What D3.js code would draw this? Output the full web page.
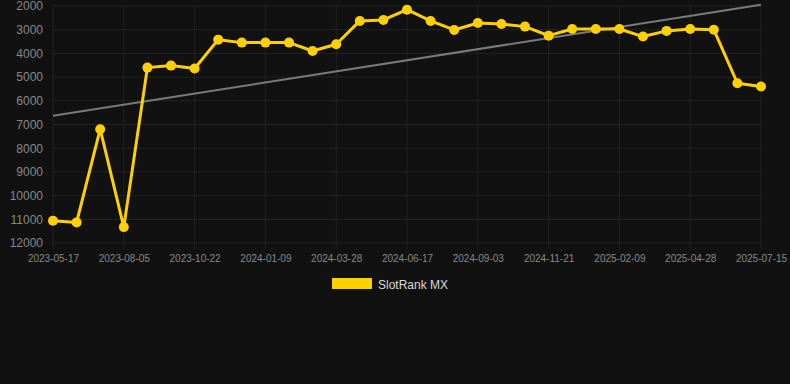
<!DOCTYPE html>
<html>
<head>
<meta charset="utf-8">
<script src="https://cdn.jsdelivr.net/npm/d3@7"></script>
<style>
html,body{margin:0;padding:0;background:#111111;}
svg{display:block;}
</style>
</head>
<body>
<svg id="chart" width="790" height="384"></svg>
<script>
const categories = [
  "2023-05-17","2023-06-13","2023-07-10","2023-08-05","2023-08-31","2023-09-26",
  "2023-10-22","2023-11-18","2023-12-14","2024-01-09","2024-02-05","2024-03-02",
  "2024-03-28","2024-04-24","2024-05-21","2024-06-17","2024-07-13","2024-08-08",
  "2024-09-03","2024-09-30","2024-10-26","2024-11-21","2024-12-18","2025-01-14",
  "2025-02-09","2025-03-07","2025-04-02","2025-04-28","2025-05-24","2025-06-19",
  "2025-07-15"
];
const rankValues = [
  11060,11130,7200,11330,4600,4515,
  4640,3420,3545,3545,3545,3900,
  3615,2630,2590,2155,2630,3010,
  2715,2760,2870,3250,2970,2970,
  2970,3290,3050,2970,3000,5260,
  5400
];
const trendValues = [6630, 1950]; // trend line at first and last category
const yTicks = [2000,3000,4000,5000,6000,7000,8000,9000,10000,11000,12000];
const xTickLabels = ["2023-05-17","2023-08-05","2023-10-22","2024-01-09","2024-03-28",
  "2024-06-17","2024-09-03","2024-11-21","2025-02-09","2025-04-28","2025-07-15"];
const seriesName = "SlotRank MX";

(function () {
const svg = d3.select("#chart");
const pLeft = 53, pRight = 761, pTop = 6, pBottom = 243;

const x = d3.scalePoint().domain(categories).range([pLeft, pRight]);
const y = d3.scaleLinear().domain([2000, 12000]).range([pTop, pBottom]);

const gridColor = "#232323";

// horizontal grid
svg.append("g").selectAll("line").data(yTicks).join("line")
  .attr("x1", pLeft).attr("x2", pRight)
  .attr("y1", d => y(d)).attr("y2", d => y(d))
  .attr("stroke", gridColor).attr("stroke-width", 1);

// vertical grid (with tick extension)
svg.append("g").selectAll("line").data(xTickLabels).join("line")
  .attr("x1", d => x(d)).attr("x2", d => x(d))
  .attr("y1", pTop).attr("y2", pBottom + 6)
  .attr("stroke", gridColor).attr("stroke-width", 1);

// y axis labels
const yAxis = d3.axisLeft(y).tickValues(yTicks).tickSize(0).tickPadding(0).tickFormat(d3.format("d"));
const gy = svg.append("g").attr("transform", `translate(${pLeft - 10},0)`).call(yAxis);
gy.select(".domain").remove();
gy.selectAll("text").attr("fill", "#888888").attr("font-family", "Liberation Sans, Arial, sans-serif").attr("font-size", 12);

// x axis labels
const xAxis = d3.axisBottom(x).tickValues(xTickLabels).tickSize(0).tickPadding(0);
const gx = svg.append("g").attr("transform", `translate(0,${pBottom + 12})`).call(xAxis);
gx.select(".domain").remove();
gx.selectAll("text").attr("fill", "#888888").attr("font-family", "Liberation Sans, Arial, sans-serif").attr("font-size", 10);

// trend line
svg.append("line")
  .attr("x1", x(categories[0])).attr("y1", y(trendValues[0]))
  .attr("x2", x(categories[categories.length - 1])).attr("y2", y(trendValues[1]))
  .attr("stroke", "#7a7a7a").attr("stroke-width", 2);

// series line
const data = categories.map((c, i) => ({c, v: rankValues[i]}));
const line = d3.line().x(d => x(d.c)).y(d => y(d.v));
svg.append("path").datum(data).attr("d", line)
  .attr("fill", "none").attr("stroke", "#FFD000").attr("stroke-width", 3)
  .attr("stroke-linejoin", "round");

svg.append("g").selectAll("circle").data(data).join("circle")
  .attr("cx", d => x(d.c)).attr("cy", d => y(d.v)).attr("r", 5)
  .attr("fill", "#FFD000");

// legend
const lg = svg.append("g");
lg.append("rect").attr("x", 332).attr("y", 278).attr("width", 40).attr("height", 11).attr("fill", "#FFD000");
lg.append("text").attr("x", 378).attr("y", 289).text(seriesName)
  .attr("fill", "#d9d9d9").attr("font-family", "Liberation Sans, Arial, sans-serif").attr("font-size", 12);
})();
</script>
</body>
</html>
